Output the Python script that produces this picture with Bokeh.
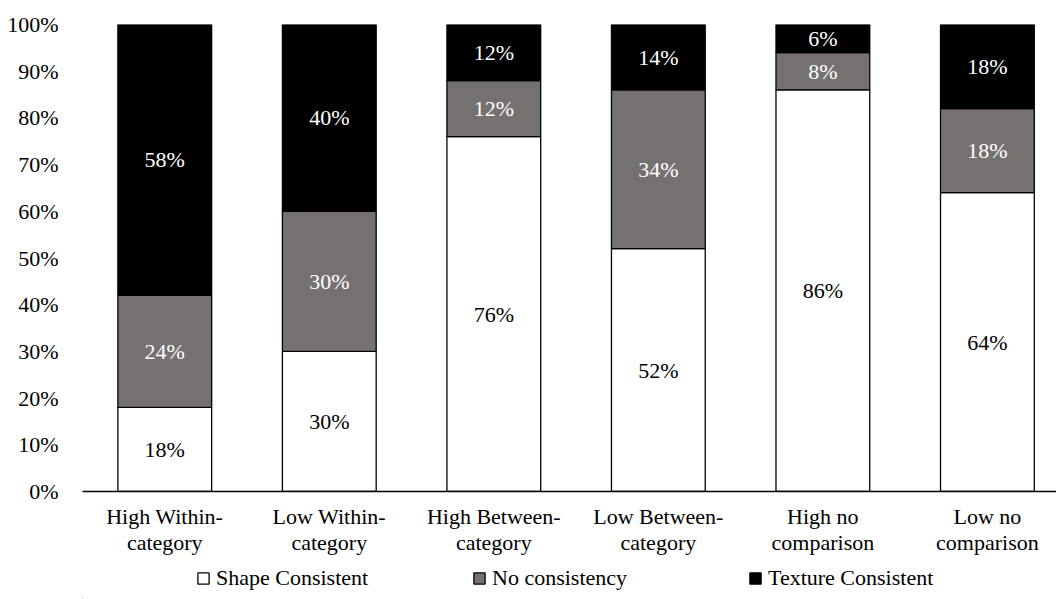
from bokeh.plotting import figure
from bokeh.models import Range1d, FixedTicker, Legend, LegendItem, ColumnDataSource
from bokeh.layouts import column
from bokeh.core.properties import value
from bokeh.embed import file_html
from bokeh.resources import INLINE

categories = ["High Within-\ncategory", "Low Within-\ncategory", "High Between-\ncategory",
              "Low Between-\ncategory", "High no\ncomparison", "Low no\ncomparison"]
shape_consistent = [18, 30, 76, 52, 86, 64]
no_consistency = [24, 30, 12, 34, 8, 18]
texture_consistent = [58, 40, 12, 14, 6, 18]
series_names = ["Shape Consistent", "No consistency", "Texture Consistent"]
y_ticks = [0, 10, 20, 30, 40, 50, 60, 70, 80, 90, 100]

FONT = "Liberation Serif"
colors = ["#FFFFFF", "#767171", "#000000"]
text_colors = ["#000000", "#FFFFFF", "#FFFFFF"]

xs = list(range(1, len(categories) + 1))
series = [shape_consistent, no_consistency, texture_consistent]

p = figure(width=1056, height=560, output_backend="svg", toolbar_location=None,
           x_range=Range1d(0.5, 6.42), y_range=Range1d(0, 100),
           min_border_left=82, min_border_right=0, min_border_top=24, min_border_bottom=69)
p.outline_line_color = None
p.grid.visible = False
p.background_fill_color = "white"

bottoms = [0] * len(xs)
for s, col, tcol in zip(series, colors, text_colors):
    tops = [b + v for b, v in zip(bottoms, s)]
    src = ColumnDataSource(dict(x=xs, bottom=bottoms, top=tops,
                                mid=[(b + t) / 2 for b, t in zip(bottoms, tops)],
                                lab=[f"{v}%" for v in s]))
    p.vbar(x="x", bottom="bottom", top="top", width=0.57, source=src,
           fill_color=col, line_color="#000000", line_width=1.3)
    p.text(x="x", y="mid", text="lab", source=src, text_align="center", text_baseline="middle",
           text_font=value(FONT), text_font_size="22px", text_color=tcol)
    bottoms = tops

p.yaxis.ticker = FixedTicker(ticks=y_ticks)
p.yaxis.major_label_overrides = {t: f"{t}%" for t in y_ticks}
p.yaxis.axis_line_color = None
p.yaxis.major_tick_line_color = None
p.yaxis.minor_tick_line_color = None
p.yaxis.major_label_text_font = FONT
p.yaxis.major_label_text_font_size = "22px"
p.yaxis.major_label_text_color = "#000000"
p.yaxis.major_label_standoff = 18

p.xaxis.ticker = FixedTicker(ticks=xs)
p.xaxis.major_label_overrides = {x: c for x, c in zip(xs, categories)}
p.xaxis.axis_line_color = "#000000"
p.xaxis.axis_line_width = 1.5
p.xaxis.major_tick_line_color = None
p.xaxis.minor_tick_line_color = None
p.xaxis.major_tick_out = 0
p.xaxis.major_tick_in = 0
p.xaxis.minor_tick_out = 0
p.xaxis.major_label_text_font = FONT
p.xaxis.major_label_text_font_size = "22px"
p.xaxis.major_label_text_line_height = 1.05
p.xaxis.major_label_text_color = "#000000"
p.xaxis.major_label_standoff = 12

# legend strip below the chart (hidden proxy glyphs outside the visible range)
lf = figure(width=1056, height=39, output_backend="svg", toolbar_location=None,
            x_range=Range1d(0, 1), y_range=Range1d(0, 1),
            min_border_left=0, min_border_right=0, min_border_top=0, min_border_bottom=0)
lf.axis.visible = False
lf.grid.visible = False
lf.outline_line_color = None
leg_renderers = []
for col in colors:
    leg_renderers.append(lf.vbar(x=[-5], bottom=[-5], top=[-4], width=0.1, fill_color=col,
                                 line_color="#000000", line_width=1.3))
legend = Legend(items=[LegendItem(label=n, renderers=[r]) for n, r in zip(series_names, leg_renderers)],
                orientation="horizontal", location=(114, 8),
                label_text_font=FONT, label_text_font_size="22px", label_text_color="#000000",
                glyph_width=14, glyph_height=14, label_standoff=6, label_height=22, label_width=154,
                spacing=102, border_line_color=None, background_fill_alpha=0, padding=0, margin=0)
lf.add_layout(legend, "center")

layout = column(p, lf, spacing=0)
open("out.html", "w").write(file_html(layout, INLINE))
